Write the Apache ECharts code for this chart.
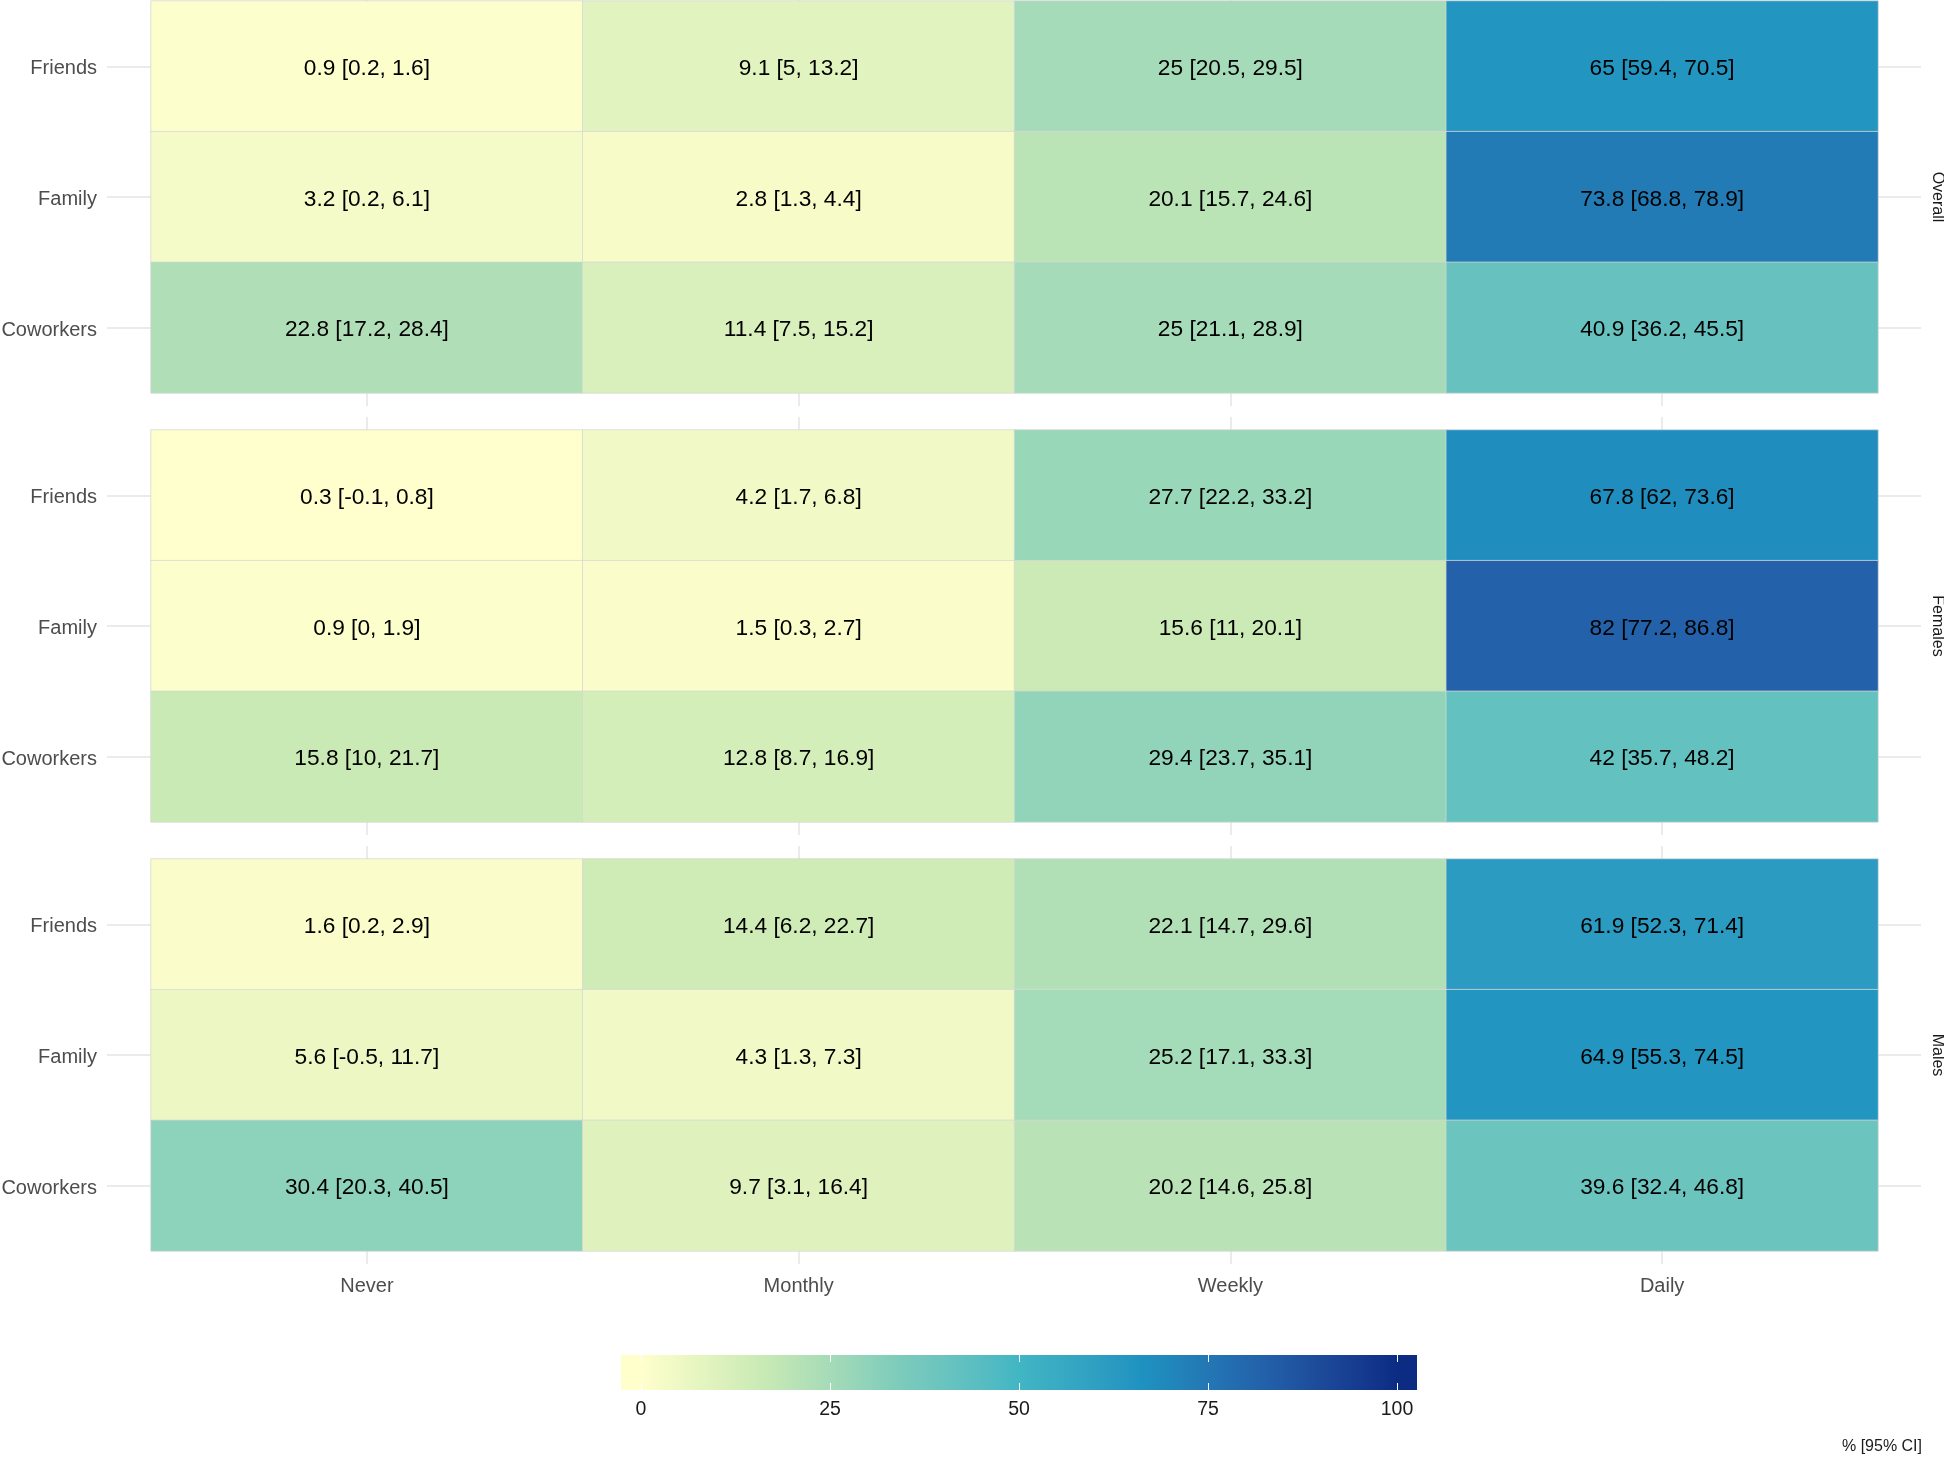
<!DOCTYPE html>
<html><head><meta charset="utf-8">
<script src="https://cdn.jsdelivr.net/npm/echarts@6/dist/echarts.min.js"></script>
<style>html,body{margin:0;padding:0;background:#fff}#c{width:1944px;height:1459px}</style>
</head><body><div id="c"></div>
<script>
// ---------------- data ----------------
const groups = ['Overall', 'Females', 'Males'];
const frequencies = ['Never', 'Monthly', 'Weekly', 'Daily'];
const targets = ['Friends', 'Family', 'Coworkers'];

// rows: Friends, Family, Coworkers ; columns: Never, Monthly, Weekly, Daily
const overallPct = [[0.9, 9.1, 25, 65], [3.2, 2.8, 20.1, 73.8], [22.8, 11.4, 25, 40.9]];
const overallLo  = [[0.2, 5, 20.5, 59.4], [0.2, 1.3, 15.7, 68.8], [17.2, 7.5, 21.1, 36.2]];
const overallHi  = [[1.6, 13.2, 29.5, 70.5], [6.1, 4.4, 24.6, 78.9], [28.4, 15.2, 28.9, 45.5]];

const femalesPct = [[0.3, 4.2, 27.7, 67.8], [0.9, 1.5, 15.6, 82], [15.8, 12.8, 29.4, 42]];
const femalesLo  = [[-0.1, 1.7, 22.2, 62], [0, 0.3, 11, 77.2], [10, 8.7, 23.7, 35.7]];
const femalesHi  = [[0.8, 6.8, 33.2, 73.6], [1.9, 2.7, 20.1, 86.8], [21.7, 16.9, 35.1, 48.2]];

const malesPct = [[1.6, 14.4, 22.1, 61.9], [5.6, 4.3, 25.2, 64.9], [30.4, 9.7, 20.2, 39.6]];
const malesLo  = [[0.2, 6.2, 14.7, 52.3], [-0.5, 1.3, 17.1, 55.3], [20.3, 3.1, 14.6, 32.4]];
const malesHi  = [[2.9, 22.7, 29.6, 71.4], [11.7, 7.3, 33.3, 74.5], [40.5, 16.4, 25.8, 46.8]];

const legendTicks = [0, 25, 50, 75, 100];
const legendTitle = '% [95% CI]';
const paletteYlGnBu = ['#ffffcc', '#c7e9b4', '#7fcdbb', '#41b6c4', '#1d91c0', '#225ea8', '#0c2c84'];

// ---------------- colour scale (Lab interpolation, like ggplot) ----------------
function hex2rgb(h) { return [1, 3, 5].map(i => parseInt(h.substr(i, 2), 16)); }
function s2l(c) { c /= 255; return c <= 0.04045 ? c / 12.92 : Math.pow((c + 0.055) / 1.055, 2.4); }
function l2s(c) { c = c <= 0.0031308 ? 12.92 * c : 1.055 * Math.pow(c, 1 / 2.4) - 0.055; return Math.max(0, Math.min(255, Math.round(c * 255))); }
const WX = 0.95047, WY = 1.0, WZ = 1.08883;
function rgb2lab(rgb) {
  const [r, g, b] = rgb.map(s2l);
  const x = (0.4124 * r + 0.3576 * g + 0.1805 * b) / WX;
  const y = (0.2126 * r + 0.7152 * g + 0.0722 * b) / WY;
  const z = (0.0193 * r + 0.1192 * g + 0.9505 * b) / WZ;
  const f = t => t > 0.008856 ? Math.cbrt(t) : 7.787 * t + 16 / 116;
  const fx = f(x), fy = f(y), fz = f(z);
  return [116 * fy - 16, 500 * (fx - fy), 200 * (fy - fz)];
}
function lab2hex(lab) {
  const fy = (lab[0] + 16) / 116, fx = fy + lab[1] / 500, fz = fy - lab[2] / 200;
  const fi = t => t * t * t > 0.008856 ? t * t * t : (t - 16 / 116) / 7.787;
  const x = fi(fx) * WX, y = fi(fy) * WY, z = fi(fz) * WZ;
  const r = 3.2406 * x - 1.5372 * y - 0.4986 * z;
  const g = -0.9689 * x + 1.8758 * y + 0.0415 * z;
  const b = 0.0557 * x - 0.2040 * y + 1.0570 * z;
  return '#' + [r, g, b].map(l2s).map(v => v.toString(16).padStart(2, '0')).join('');
}
const paletteLab = paletteYlGnBu.map(h => rgb2lab(hex2rgb(h)));
function colorAt(v) {
  const t = Math.max(0, Math.min(1, v / 100)) * (paletteLab.length - 1);
  const i = Math.min(paletteLab.length - 2, Math.floor(t));
  const f = t - i;
  const a = paletteLab[i], b = paletteLab[i + 1];
  return lab2hex([0, 1, 2].map(k => a[k] + (b[k] - a[k]) * f));
}
const scaleStops = [];
for (let v = 0; v <= 100; v += 1) scaleStops.push(colorAt(v));

// ---------------- layout ----------------
const FONT = "'Liberation Sans', Arial, sans-serif";
const GRID_LEFT = 151, GRID_RIGHT = 66, GRID_H = 392;
const gridTops = [1, 430, 859];
const tickStyle = { color: '#ebebeb', width: 2 };

const pctSets = [overallPct, femalesPct, malesPct];
const loSets = [overallLo, femalesLo, malesLo];
const hiSets = [overallHi, femalesHi, malesHi];

const grid = [], xAxis = [], yAxis = [], series = [];
groups.forEach((g, gi) => {
  grid.push({ left: GRID_LEFT, right: GRID_RIGHT, top: gridTops[gi], height: GRID_H, outerBoundsMode: 'none', containLabel: false });
  xAxis.push({
    type: 'category', gridIndex: gi, data: frequencies, position: 'bottom',
    axisLine: { show: false }, splitLine: { show: false },
    axisTick: { show: true, alignWithLabel: true, length: 13, lineStyle: tickStyle },
    axisLabel: { show: gi === groups.length - 1, color: '#4d4d4d', fontSize: 20, fontFamily: FONT, margin: 25 }
  });
  xAxis.push({
    type: 'category', gridIndex: gi, data: frequencies, position: 'top',
    axisLine: { show: false }, splitLine: { show: false },
    axisTick: { show: true, alignWithLabel: true, length: 13, lineStyle: tickStyle },
    axisLabel: { show: false }
  });
  yAxis.push({
    type: 'category', gridIndex: gi, data: targets, inverse: true, position: 'left',
    axisLine: { show: false }, splitLine: { show: false },
    axisTick: { show: true, alignWithLabel: true, length: 44, lineStyle: tickStyle },
    axisLabel: {
      margin: 54, verticalAlign: 'middle',
      formatter: v => '{t|' + v + '}',
      rich: { t: { color: '#4d4d4d', fontSize: 20, fontFamily: FONT, padding: [5, 0, 0, 0] } }
    }
  });
  yAxis.push({
    type: 'category', gridIndex: gi, data: targets, inverse: true, position: 'right',
    axisLine: { show: false }, splitLine: { show: false },
    axisTick: { show: true, alignWithLabel: true, length: 43, lineStyle: tickStyle },
    axisLabel: { show: false }
  });
  const data = [];
  targets.forEach((t, r) => frequencies.forEach((f, c) => {
    data.push([c, r, pctSets[gi][r][c], loSets[gi][r][c], hiSets[gi][r][c]]);
  }));
  series.push({
    type: 'heatmap', name: g, xAxisIndex: 2 * gi, yAxisIndex: 2 * gi, data: data,
    encode: { x: 0, y: 1, value: 2 },
    itemStyle: { borderColor: 'rgba(215,215,215,0.75)', borderWidth: 1 },
    label: {
      show: true, color: '#000', fontSize: 22.7, fontFamily: FONT, offset: [0, 2.5],
      formatter: p => p.data[2] + ' [' + p.data[3] + ', ' + p.data[4] + ']'
    },
    emphasis: { disabled: true }
  });
});

// ---------------- colour bar legend (graphic) ----------------
const BAR_X0 = 621, BAR_X1 = 1417, BAR_Y = 1355, BAR_H = 35;
const V0PX = 641, V100PX = 1397;
const legendMin = legendTicks[0], legendMax = legendTicks[legendTicks.length - 1];
const valToPx = v => V0PX + (v - legendMin) / (legendMax - legendMin) * (V100PX - V0PX);
const stops = [{ offset: 0, color: colorAt(legendMin) }];
for (let v = legendMin; v <= legendMax; v += 2) {
  stops.push({ offset: (valToPx(v) - BAR_X0) / (BAR_X1 - BAR_X0), color: colorAt(v) });
}
stops.push({ offset: 1, color: colorAt(legendMax) });

const graphic = [];
graphic.push({
  type: 'rect', shape: { x: BAR_X0, y: BAR_Y, width: BAR_X1 - BAR_X0, height: BAR_H },
  style: { fill: new echarts.graphic.LinearGradient(0, 0, 1, 0, stops) }, silent: true
});
legendTicks.forEach(v => {
  const x = Math.round(valToPx(v)) + 0.5;
  graphic.push({ type: 'line', shape: { x1: x, y1: BAR_Y, x2: x, y2: BAR_Y + 7 }, style: { stroke: '#ffffff', lineWidth: 1 }, silent: true });
  graphic.push({ type: 'line', shape: { x1: x, y1: BAR_Y + BAR_H - 7, x2: x, y2: BAR_Y + BAR_H }, style: { stroke: '#ffffff', lineWidth: 1 }, silent: true });
  graphic.push({
    type: 'text', x: valToPx(v), y: 1410,
    style: { text: String(v), fill: '#1a1a1a', font: '19.5px ' + FONT, align: 'center', verticalAlign: 'middle' }, silent: true
  });
});
graphic.push({
  type: 'text', x: 1922, y: 1447,
  style: { text: legendTitle, fill: '#1a1a1a', font: '16px ' + FONT, align: 'right', verticalAlign: 'middle' }, silent: true
});
// facet strip labels
groups.forEach((g, gi) => {
  graphic.push({
    type: 'text', x: 1937, y: gridTops[gi] + GRID_H / 2, rotation: -Math.PI / 2,
    style: { text: g, fill: '#1a1a1a', font: '16px ' + FONT, align: 'center', verticalAlign: 'middle' }, silent: true
  });
});

const chart = echarts.init(document.getElementById('c'), null, { renderer: 'canvas' });
chart.setOption({
  backgroundColor: '#ffffff',
  animation: false,
  grid, xAxis, yAxis, series,
  visualMap: {
    show: false, type: 'continuous', min: legendMin, max: legendMax, dimension: 2,
    seriesIndex: [0, 1, 2], inRange: { color: scaleStops }
  },
  graphic
});
</script>
</body></html>
